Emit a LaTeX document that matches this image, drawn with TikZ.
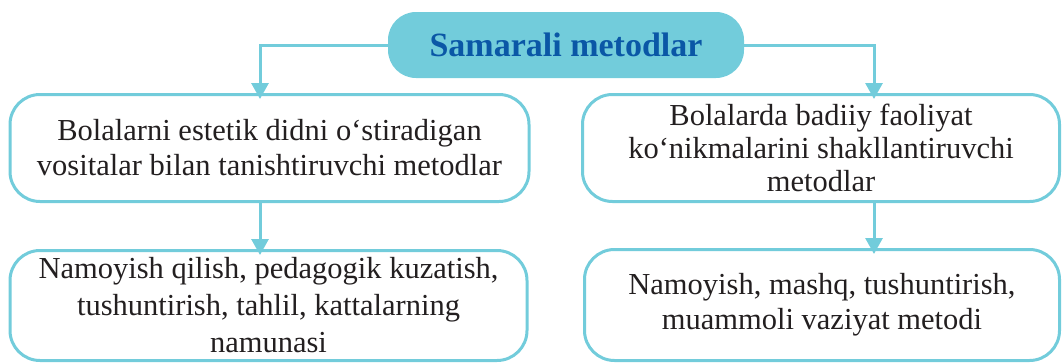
\documentclass[tikz,border=0pt]{standalone}
\usepackage{fontspec}
\setmainfont{Liberation Serif}
\usetikzlibrary{arrows.meta}
\definecolor{cyanline}{HTML}{72CCDB}
\definecolor{titleblue}{HTML}{0A57A6}
\definecolor{txt}{HTML}{231F20}
\tikzset{
  box/.style={draw=cyanline, line width=3pt, rounded corners=30pt, fill=white, align=center, text=txt, font=\fontsize{30.5}{35}\selectfont, inner sep=0pt},
  title/.style={fill=cyanline, rounded corners=28pt, text=titleblue, font=\fontsize{34}{38}\selectfont\bfseries, inner sep=0pt},
  conn/.style={draw=cyanline, line width=3pt, -{Triangle[width=17pt,length=16pt]}},
}
\begin{document}
\begin{tikzpicture}[x=1pt,y=-1pt]
\useasboundingbox (0,0) rectangle (1063,362);
\node[title, minimum width=356pt, minimum height=66pt] (t) at (566,45) {Samarali metodlar};
\node[box, minimum width=519pt, minimum height=107pt] (l1) at (269.5,148) {Bolalarni estetik didni o‘stiradigan\\vositalar bilan tanishtiruvchi metodlar};
\node[box, minimum width=517pt, minimum height=110pt, font=\fontsize{30.5}{37}\selectfont] (l2) at (268.5,305.5) {Namoyish qilish, pedagogik kuzatish,\\tushuntirish, tahlil, kattalarning\\namunasi};
\node[box, minimum width=477pt, minimum height=107pt, font=\fontsize{30.5}{33}\selectfont] (r1) at (821,148) {Bolalarda badiiy faoliyat\\ko‘nikmalarini shakllantiruvchi\\metodlar};
\node[box, minimum width=475pt, minimum height=111pt] (r2) at (822,305) {Namoyish, mashq, tushuntirish,\\muammoli vaziyat metodi};
\coordinate (la) at (260,45);
\coordinate (ra) at (874,45);
\draw[conn] (t.west) -- (la) -- ([yshift=-6pt]la |- l1.north);
\draw[conn] (t.east) -- (ra) -- ([yshift=-6pt]ra |- r1.north);
\draw[conn] (la |- l1.south) -- ([yshift=-6pt]la |- l2.north);
\draw[conn] (ra |- r1.south) -- ([yshift=-6pt]ra |- r2.north);
\end{tikzpicture}
\end{document}
